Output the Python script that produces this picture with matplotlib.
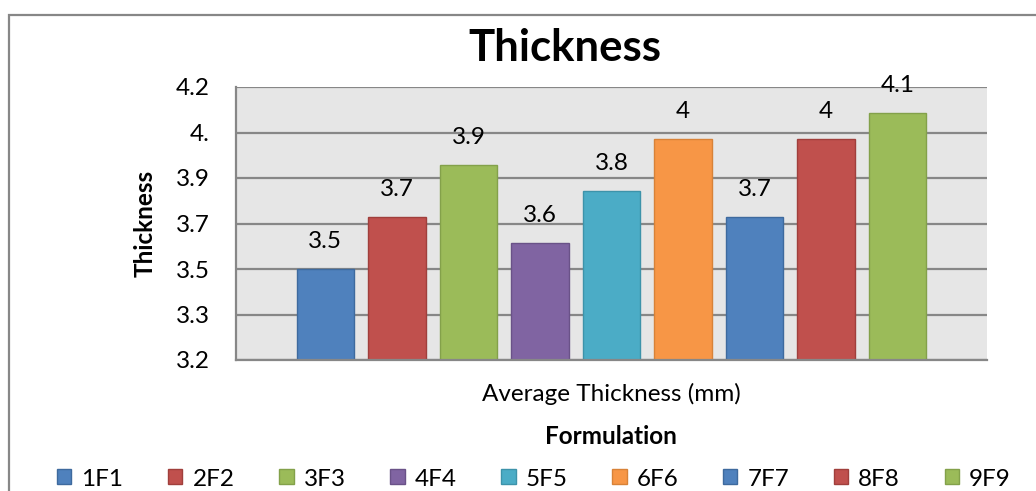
import matplotlib.pyplot as plt
from matplotlib.patches import Rectangle, Patch

plt.rcParams['font.family'] = ['Lato', 'DejaVu Sans']

# formulation averages (mm)
formulations = ['1F1', '2F2', '3F3', '4F4', '5F5', '6F6', '7F7', '8F8', '9F9']
thickness = [3.52, 3.72, 3.92, 3.62, 3.82, 4.02, 3.72, 4.02, 4.12]
colors = ['#4F81BD', '#C0504D', '#9BBB59', '#8064A2', '#4BACC6',
          '#F79646', '#4F81BD', '#C0504D', '#9BBB59']
edges = ['#3E6A9E', '#A03F3C', '#83A14A', '#6A5288', '#3D93AA',
         '#D88238', '#3E6A9E', '#A03F3C', '#83A14A']

y_min, y_step = 3.17, 0.175
y_ticks = [y_min + k * y_step for k in range(7)]

fs = 17.5

fig = plt.figure(figsize=(10.36, 4.91), dpi=100)
ax = fig.add_axes([236 / 1036, 1 - 360 / 491, (987 - 236) / 1036, (360 - 87) / 491])

grid_c = '#878787'
ax.set_facecolor('#E6E6E6')
ax.set_axisbelow(True)
ax.yaxis.grid(True, color=grid_c, lw=1.6)

x = list(range(len(formulations)))
bars = ax.bar(x, [v - y_min for v in thickness], bottom=y_min, width=0.8,
              color=colors, edgecolor=edges, linewidth=1)

for xi, v in zip(x, thickness):
    ax.annotate(f'{round(v, 1):g}', (xi, v), xytext=(0, 19.5), textcoords='offset points',
                ha='center', va='center', fontsize=fs)

ax.set_xlim(-1.25, 9.25)
ax.set_ylim(y_min, y_ticks[-1])
ax.set_yticks(y_ticks)
ax.set_yticklabels([f'{t:.1f}'.rstrip('0') for t in y_ticks], fontsize=fs)
ax.set_xticks([])
ax.tick_params(axis='y', length=0, pad=19)

for s in ['right', 'top']:
    ax.spines[s].set_visible(False)
for s in ['left', 'bottom']:
    ax.spines[s].set_color(grid_c)
    ax.spines[s].set_linewidth(1.6)

ax.set_ylabel('Thickness', fontsize=fs, fontweight='bold')
ax.yaxis.set_label_coords((157 - 236) / 751, 0.5)

fig.text(565 / 1036, 1 - 48 / 491, 'Thickness', ha='center', va='center',
         fontsize=31.5, fontweight='bold')
fig.text(611 / 1036, 1 - 394 / 491, 'Average Thickness (mm)', ha='center', va='center', fontsize=fs)
fig.text(611 / 1036, 1 - 436 / 491, 'Formulation', ha='center', va='center',
         fontsize=fs, fontweight='bold')

handles = [Patch(facecolor=c, edgecolor=e, lw=1) for c, e in zip(colors, edges)]
fig.legend(handles, formulations, loc='center', bbox_to_anchor=(534 / 1036, 1 - 479 / 491),
           ncol=9, frameon=False, fontsize=fs, handlelength=0.58, handleheight=0.58,
           handletextpad=0.41, columnspacing=1.85, borderpad=0)

# chart frame
fig.patches.append(Rectangle((9 / 1036, -0.1), 1.1, 1.1 - 15 / 491, transform=fig.transFigure,
                             fill=False, edgecolor=grid_c, lw=1.6))

fig.savefig('out.png', dpi=100)
